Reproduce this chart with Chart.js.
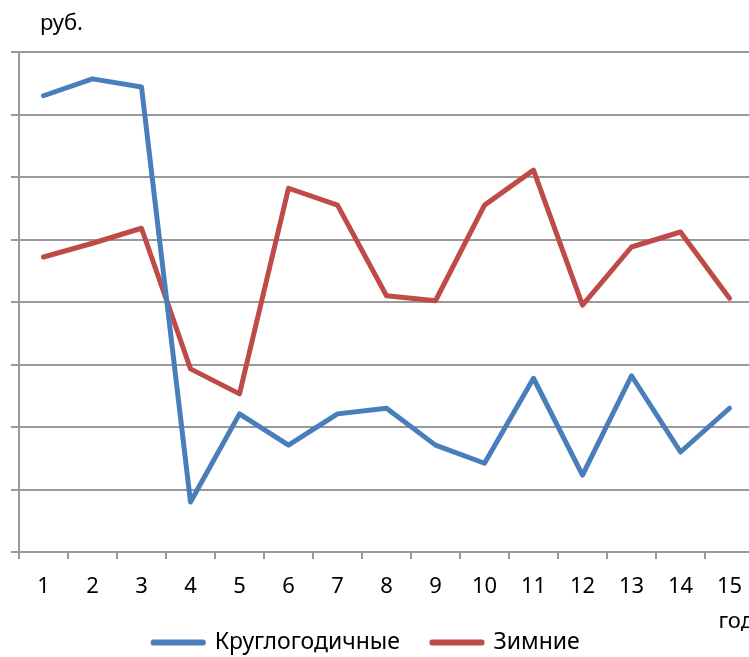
<!DOCTYPE html>
<html>
<head>
<meta charset="utf-8">
<script src="https://cdn.jsdelivr.net/npm/chart.js@4.4.1/dist/chart.umd.min.js"></script>
<style>
html, body { margin: 0; padding: 0; overflow: hidden; background: #fff; }
canvas { display: block; }
</style>
</head>
<body>
<canvas id="myChart" width="760" height="657"></canvas>
<script>
// Years along the x axis
const years = ['1','2','3','4','5','6','7','8','9','10','11','12','13','14','15'];
// Values (the y axis has no labels, so the units are relative)
const yearRound = [730, 757, 744, 80, 221, 171, 221, 230, 171, 142, 278, 123, 282, 160, 230];
const winter = [472, 494, 518, 293, 253, 582, 555, 410, 402, 555, 611, 395, 488, 512, 406];

const font = {family: "'Noto Sans', sans-serif", size: 22};
const gridColor = '#999999';

// Move the title and the legend sideways a bit, like in the Excel picture
const nudge = {
    id: 'nudge',
    afterLayout(chart) {
        chart.titleBlock.left += 29;
        chart.titleBlock.right += 29;
        chart.legend.left -= 16;
        chart.legend.right -= 16;
    }
};

function renderChart() {
    var ctx = document.getElementById('myChart').getContext('2d');
    var myChart = new Chart(ctx, {
        type: 'line',
        data: {
            labels: years,
            datasets: [{
                label: 'Круглогодичные',
                data: yearRound,
                borderColor: '#4a7ebb',
                backgroundColor: '#4a7ebb',
                borderWidth: 5,
                borderCapStyle: 'round',
                borderJoinStyle: 'round',
                pointRadius: 0,
                tension: 0
            },
            {
                label: 'Зимние',
                data: winter,
                borderColor: '#be4b48',
                backgroundColor: '#be4b48',
                borderWidth: 5,
                borderCapStyle: 'round',
                borderJoinStyle: 'round',
                pointRadius: 0,
                tension: 0
            }]
        },
        options: {
            responsive: false,
            animation: false,
            layout: {
                padding: {left: 11, right: 6, top: 0, bottom: -7}
            },
            plugins: {
                title: {
                    display: true,
                    text: 'руб.',
                    align: 'start',
                    color: '#000',
                    font: {family: font.family, size: 22, weight: 'normal'},
                    padding: {top: 11, bottom: 14.6}
                },
                legend: {
                    position: 'bottom',
                    labels: {
                        color: '#000',
                        font: {family: font.family, size: 23},
                        boxWidth: 50,
                        boxHeight: 1,
                        padding: 32
                    }
                },
                tooltip: {enabled: false}
            },
            scales: {
                x: {
                    offset: true,
                    grid: {
                        offset: true,
                        drawOnChartArea: false,
                        tickLength: 7,
                        color: gridColor,
                        lineWidth: 2
                    },
                    border: {color: gridColor, width: 2},
                    ticks: {color: '#000', font: font, padding: 15, maxRotation: 0},
                    title: {
                        display: true,
                        text: 'год',
                        align: 'end',
                        color: '#000',
                        font: font,
                        padding: {top: -6.6, bottom: -36.2}
                    }
                },
                y: {
                    min: 0,
                    max: 800,
                    ticks: {display: false, stepSize: 100},
                    grid: {
                        tickLength: 8,
                        color: gridColor,
                        lineWidth: 2
                    },
                    border: {color: gridColor, width: 2}
                }
            }
        },
        plugins: [nudge]
    });
}

renderChart();
</script>
</body>
</html>
